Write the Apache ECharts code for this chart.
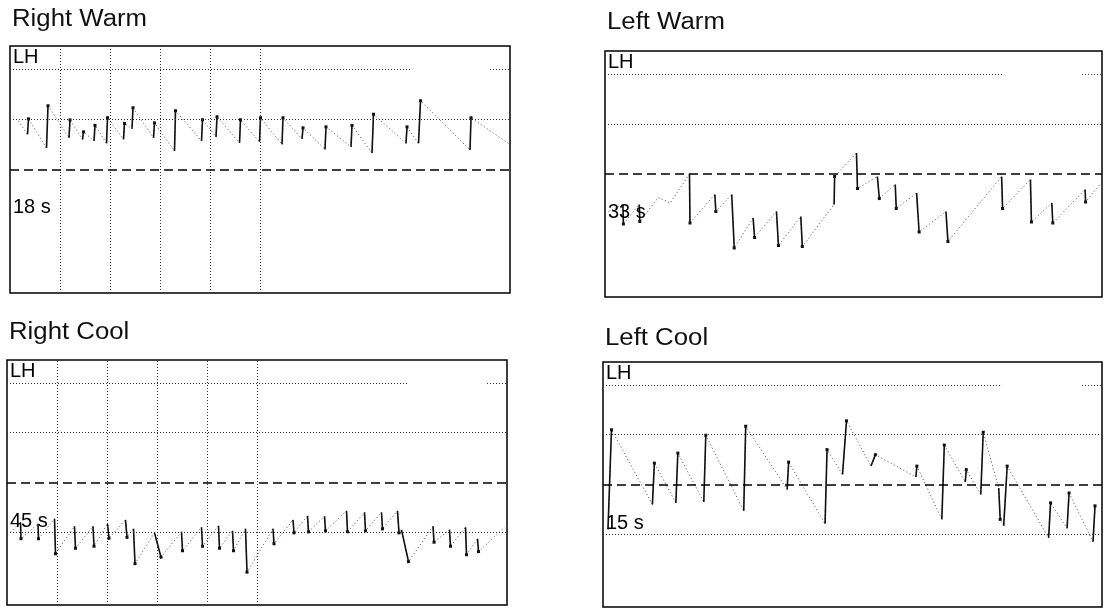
<!DOCTYPE html>
<html>
<head>
<meta charset="utf-8">
<title>Caloric nystagmus</title>
<script src="https://cdn.jsdelivr.net/npm/echarts@6/dist/echarts.min.js"></script>
<style>
  html, body { margin: 0; padding: 0; background: #fff; }
  #chart { width: 1108px; height: 615px; }
</style>
</head>
<body>
<div id="chart"></div>
<script>
// panel texts
const panelTitles = ['Right Warm', 'Left Warm', 'Right Cool', 'Left Cool'];
const channelLabel = 'LH';
const durationLabels = ['18 s', '33 s', '45 s', '15 s'];

// guide lines (deg) and second marks (s)
const warmLevels = [20, 10];
const coolLevels = [20, 10, -10];
const secondMarks = [1, 2, 3, 4, 5];

// eye position traces: [time s, position deg, 1 = fast phase ends here]
const rightWarm = [
  [0.17, 9.7, 0], [0.35, 7.0, 0], [0.37, 10.1, 1], [0.73, 4.3, 0], [0.76, 12.7, 1],
  [1.18, 6.3, 0], [1.20, 9.9, 1], [1.45, 6.0, 0], [1.47, 7.5, 1], [1.68, 5.7, 0],
  [1.70, 8.8, 1], [1.93, 5.2, 0], [1.95, 10.3, 1], [2.27, 6.0, 0], [2.29, 9.2, 1],
  [2.44, 8.1, 0], [2.46, 12.3, 1], [2.87, 6.3, 0], [2.89, 9.3, 1], [3.29, 3.7, 0],
  [3.31, 11.7, 1], [3.83, 5.7, 0], [3.85, 9.9, 1], [4.12, 6.5, 0], [4.14, 10.5, 1],
  [4.59, 5.3, 0], [4.61, 9.9, 1], [4.99, 5.5, 0], [5.01, 10.3, 1], [5.44, 5.0, 0],
  [5.46, 10.3, 1], [5.84, 6.1, 0], [5.86, 8.3, 1], [6.30, 4.0, 0], [6.32, 8.5, 1],
  [6.82, 4.5, 0], [6.84, 8.8, 1], [7.24, 3.3, 0], [7.27, 11.0, 1], [7.92, 5.2, 0],
  [7.94, 8.5, 1], [8.17, 5.2, 0], [8.21, 13.7, 1], [9.20, 3.9, 0], [9.22, 10.3, 1],
  [9.97, 5.2, 0]
];
const leftWarm = [
  [0.07, -7.5, 0], [0.36, -6.1, 0], [0.37, -10.0, 1], [0.69, -6.1, 0], [0.70, -9.5, 1],
  [1.07, -4.7, 0], [1.31, -5.8, 0], [1.70, 0.0, 0], [1.71, -9.8, 1], [2.21, -4.1, 0],
  [2.23, -7.5, 1], [2.55, -4.1, 0], [2.60, -14.8, 1], [2.98, -8.8, 0], [3.01, -12.7, 1],
  [3.45, -7.5, 0], [3.49, -14.3, 1], [3.94, -8.5, 0], [3.97, -14.5, 1], [4.61, -6.1, 0],
  [4.62, -0.5, 1], [5.06, 4.2, 0], [5.08, -2.9, 1], [5.48, -0.5, 0], [5.52, -4.9, 1],
  [5.84, -2.1, 0], [5.86, -6.9, 1], [6.27, -3.8, 0], [6.32, -11.6, 1], [6.86, -7.5, 0],
  [6.90, -13.5, 1], [7.98, -0.5, 0], [8.00, -6.9, 1], [8.56, -1.1, 0], [8.58, -9.6, 1],
  [8.99, -5.8, 0], [9.01, -9.8, 1], [9.66, -3.1, 0], [9.67, -5.6, 1], [9.96, -2.1, 0]
];
const rightCool = [
  [0.07, -10.0, 0], [0.27, -8.0, 0], [0.28, -11.3, 1], [0.62, -8.3, 0], [0.63, -11.3, 1],
  [0.95, -7.3, 0], [0.97, -14.3, 1], [1.35, -8.8, 0], [1.37, -13.2, 1], [1.72, -8.8, 0],
  [1.74, -12.8, 1], [2.01, -8.3, 0], [2.04, -11.2, 1], [2.37, -7.5, 0], [2.40, -11.0, 1],
  [2.53, -9.3, 0], [2.56, -16.3, 1], [2.95, -10.1, 0], [3.08, -15.0, 1], [3.49, -9.9, 0],
  [3.51, -13.7, 1], [3.89, -9.0, 0], [3.91, -12.8, 1], [4.23, -8.7, 0], [4.25, -13.2, 1],
  [4.51, -9.7, 0], [4.53, -13.7, 1], [4.77, -9.3, 0], [4.80, -18.0, 1], [5.32, -9.3, 0],
  [5.34, -12.3, 1], [5.72, -7.5, 0], [5.74, -10.1, 1], [6.01, -6.7, 0], [6.03, -9.9, 1],
  [6.35, -6.8, 0], [6.37, -9.7, 1], [6.79, -5.7, 0], [6.81, -9.9, 1], [7.15, -6.0, 0],
  [7.17, -9.7, 1], [7.49, -6.0, 0], [7.51, -9.3, 1], [7.81, -5.7, 0], [7.84, -10.1, 1],
  [7.89, -9.5, 0], [8.03, -15.9, 1], [8.52, -8.8, 0], [8.54, -12.0, 1], [8.85, -9.5, 0],
  [8.87, -12.8, 1], [9.17, -9.0, 0], [9.19, -14.5, 1], [9.41, -11.3, 0], [9.43, -13.9, 1],
  [9.95, -9.0, 0]
];
const leftCool = [
  [0.10, -9.0, 0], [0.17, 11.0, 1], [0.99, -4.0, 0], [1.03, 4.3, 1], [1.46, -3.7, 0],
  [1.50, 6.3, 1], [2.02, -3.5, 0], [2.06, 9.9, 1], [2.82, -5.3, 0], [2.86, 11.7, 1],
  [3.69, -1.0, 0], [3.72, 4.5, 1], [4.45, -7.9, 0], [4.49, 7.0, 1], [4.80, 2.0, 0],
  [4.88, 12.8, 1], [5.37, 3.7, 0], [5.46, 6.0, 1], [6.27, 1.5, 0], [6.29, 3.7, 1],
  [6.79, -7.0, 0], [6.84, 7.9, 1], [7.26, 0.5, 0], [7.28, 3.0, 1], [7.57, -2.0, 0],
  [7.62, 10.5, 1], [7.93, -0.7, 0], [7.96, -7.0, 1], [8.03, -8.3, 0], [8.10, 3.7, 1],
  [8.93, -10.7, 0], [8.97, -3.7, 1], [9.30, -8.8, 0], [9.34, -1.7, 1], [9.82, -11.5, 0],
  [9.86, -4.3, 1]
];

const traces = [rightWarm, leftWarm, rightCool, leftCool];
const levels = [warmLevels, warmLevels, coolLevels, coolLevels];
const withSeconds = [true, false, true, false];
const topLineGap = [8, 9.6]; // top guide line is broken where the status text sits

// panel boxes in page pixels
const boxes = [
  { left: 10, top: 46, width: 500, height: 247, titleY: 20 },
  { left: 605, top: 51, width: 497, height: 246, titleY: 23 },
  { left: 7, top: 360, width: 500, height: 245, titleY: 333 },
  { left: 603, top: 362, width: 499, height: 245, titleY: 339 }
];

const chart = echarts.init(document.getElementById('chart'));

const dotted = { color: '#333', width: 1, type: [1, 2] };

function guideLines(i) {
  const data = [];
  levels[i].forEach(v => {
    if (v === levels[i][0]) {
      data.push([{ coord: [0, v] }, { coord: [topLineGap[0], v] }]);
      data.push([{ coord: [topLineGap[1], v] }, { coord: [10, v] }]);
    } else {
      data.push({ yAxis: v });
    }
  });
  if (withSeconds[i]) {
    secondMarks.forEach(s => data.push({ xAxis: s }));
  }
  data.push({ yAxis: 0, lineStyle: { color: '#000', width: 1.6, type: [9, 5] } });
  return data;
}

const series = [];
traces.forEach((trace, i) => {
  series.push({
    type: 'line',
    xAxisIndex: i,
    yAxisIndex: i,
    data: trace.map(p => [p[0], p[1]]),
    symbol: 'none',
    silent: true,
    lineStyle: { color: '#666', width: 1, type: [1.2, 2.4] },
    markLine: {
      silent: true,
      symbol: 'none',
      label: { show: false },
      lineStyle: dotted,
      data: guideLines(i)
    },
    z: 2
  });
  const fast = [];
  for (let k = 1; k < trace.length; k++) {
    if (trace[k][2]) {
      fast.push({ coords: [[trace[k - 1][0], trace[k - 1][1]], [trace[k][0], trace[k][1]]] });
    }
  }
  series.push({
    type: 'lines',
    coordinateSystem: 'cartesian2d',
    xAxisIndex: i,
    yAxisIndex: i,
    data: fast,
    silent: true,
    symbol: ['none', 'rect'],
    symbolSize: 3,
    lineStyle: { color: '#111', width: 1.6, opacity: 1 },
    z: 3
  });
});

const graphic = [];
boxes.forEach((b, i) => {
  graphic.push({
    type: 'text', x: b.left + 2, y: b.titleY, scaleX: 1.12,
    style: { text: panelTitles[i], font: '23px "Liberation Sans", Arial, sans-serif',
      fill: '#111', verticalAlign: 'middle' }
  });
  graphic.push({
    type: 'text', x: b.left + 3, y: b.top + 11,
    style: { text: channelLabel, font: '20px "Liberation Sans", Arial, sans-serif',
      fill: '#000', verticalAlign: 'middle' }, z: 10
  });
  graphic.push({
    type: 'text', x: b.left + 3, y: b.top + 161,
    style: { text: durationLabels[i], font: '20px "Liberation Sans", Arial, sans-serif',
      fill: '#000', verticalAlign: 'middle' }, z: 10
  });
});

chart.setOption({
  animation: false,
  backgroundColor: '#fff',
  grid: boxes.map(b => ({
    left: b.left, top: b.top, width: b.width, height: b.height,
    show: true, borderColor: '#000', borderWidth: 1.5, backgroundColor: 'transparent'
  })),
  xAxis: boxes.map((b, i) => ({ gridIndex: i, type: 'value', min: 0, max: 10, show: false })),
  yAxis: boxes.map((b, i) => ({ gridIndex: i, type: 'value', min: -24.6, max: 24.6, show: false })),
  series: series,
  graphic: graphic
});
</script>
</body>
</html>
